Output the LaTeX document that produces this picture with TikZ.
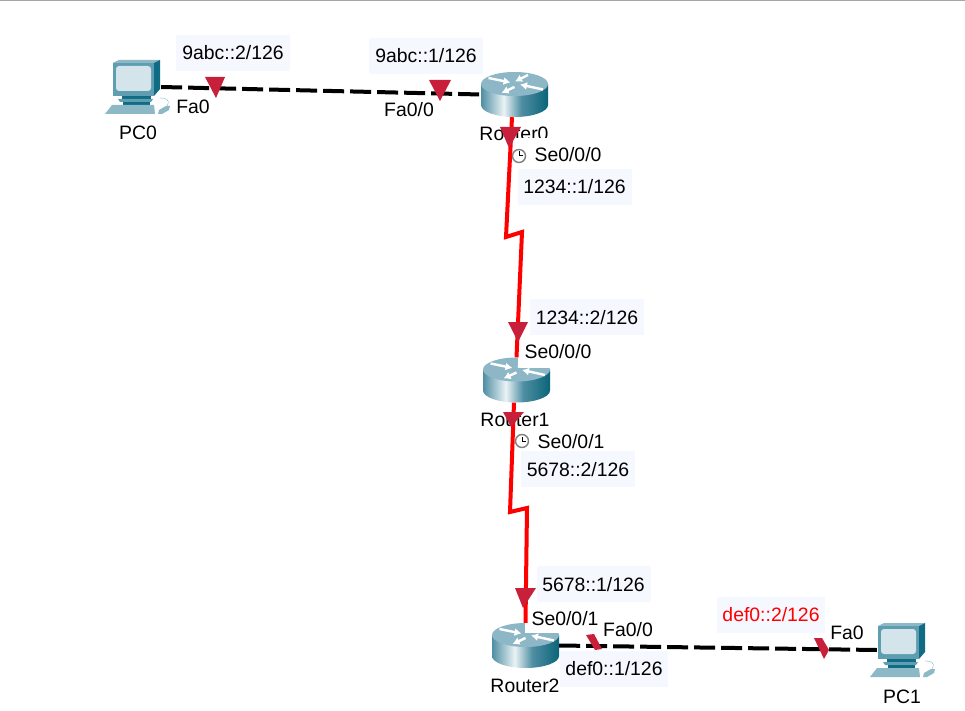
\documentclass[tikz,border=0pt]{standalone}
\usepackage{fontspec}
\setmainfont{Liberation Sans}
\usetikzlibrary{arrows.meta}
\definecolor{mkred}{HTML}{C8203A}
\definecolor{boxbg}{HTML}{F6F8FF}
\definecolor{rbL}{HTML}{4F8EA3}
\definecolor{rbM}{HTML}{EAF3F5}
\definecolor{rbR}{HTML}{0B6478}
\definecolor{rtop}{HTML}{8DB7C7}
\definecolor{pcfr}{HTML}{5F9DB1}
\definecolor{pcsc}{HTML}{D4E4EB}
\definecolor{pcdk}{HTML}{0F6C84}
\definecolor{pclt}{HTML}{8DB8C6}
\pgfdeclarehorizontalshading{rbody}{100bp}{color(0bp)=(rbL);color(25bp)=(rbL);color(42bp)=(rbM);color(55bp)=(rbL);color(75bp)=(rbR);color(100bp)=(rbR)}
\tikzset{
  lab/.style={inner sep=0pt,text height=14pt,text depth=0pt,font=\fontsize{19.4}{19.4}\selectfont,text=black},
  addr/.style={lab,fill=boxbg,minimum width=114pt,minimum height=36pt},
  addrs/.style={addr,minimum width=108pt},
  dev/.style={inner sep=0pt,minimum width=#1},
  blk/.style={black,line width=4pt,dash pattern=on 21pt off 6pt},
  rdl/.style={red,line width=4pt,line join=miter},
  mark1/.style={fill=mkred,draw=none},
  rarr/.style={white,line width=2.4pt,-{Latex[length=7pt,width=8pt]}},
  rtrdev/.pic={
    \path[shade,shading=rbody] (-33.5,-10.5) -- (-33.5,10.5) arc[start angle=180,end angle=360,x radius=33.5pt,y radius=12pt] -- (33.5,-10.5) -- cycle;
    \fill[rtop] (0,-10.5) ellipse[x radius=33.5pt,y radius=12pt];
    \draw[rarr] (-26,-16.5) -- (-4,-12);
    \draw[rarr] (13.5,-19.5) -- (0.5,-13);
    \draw[rarr] (0,-7.5) -- (-13,-1.5);
    \draw[rarr] (28.5,-5) -- (5.5,-10);
  },
  pcdev/.pic={
    \fill[pclt] (0,3) -- (6,0) -- (47,0) -- (41,3) -- cycle;
    \fill[pcdk] (41,3) -- (47,0) -- (47,29) -- (41,36) -- cycle;
    \fill[pcfr] (0,3) rectangle (41,36);
    \fill[pcsc,rounded corners=3pt] (3,6) rectangle (38,31);
    \fill[pcdk] (9,36) rectangle (38,39);
    \fill[pcfr] (5,39) -- (40,39) -- (38,42) -- (7,42) -- cycle;
    \fill[pcdk] (10,42) rectangle (37,46);
    \fill[pclt] (-1,45) -- (41,45) -- (42,54) -- (-8,54) -- cycle;
    \draw[pclt,line width=.4pt] (47,38) .. controls (52,38) and (58,39) .. (54,46);
    \fill[pclt] (46,50) -- (53,46) -- (57,46) -- (56,50) -- (49,54) -- (45,54) -- cycle;
  },
  clockicon/.pic={
    \draw[gray,line width=1.4pt,fill=white] (0,0) circle[radius=6.5pt];
    \draw[black,line width=1pt] (0,-4.5) -- (0,0) -- (4,0);
  }
}
\begin{document}
\begin{tikzpicture}[x=1pt,y=-1pt]
\useasboundingbox (0,0) rectangle (965,711);
\fill[white] (0,0) rectangle (965,711);
\fill[gray!70] (0,0) rectangle (965,1);

% device positions
\node[dev=48pt,minimum height=54pt] (pc0) at (137,87) {};
\node[dev=67pt,minimum height=45pt] (r0) at (514.5,94.5) {};
\node[dev=67pt,minimum height=45pt] (r1) at (516.5,380) {};
\node[dev=67pt,minimum height=45pt] (r2) at (525.5,645.5) {};
\node[dev=48pt,minimum height=54pt] (pc1) at (901,650) {};

% bend points of the serial links
\coordinate (z0a) at (506,237);
\coordinate (z0b) at (522,232);
\coordinate (z1a) at (510,512);
\coordinate (z1b) at (527,508);

% devices
\pic at (r0) {rtrdev};
\pic at (r1) {rtrdev};
\pic at (r2) {rtrdev};
\pic at (113,60) {pcdev};
\pic at (878,623) {pcdev};

% device names (two are cut off by the label backgrounds)
\node[lab] (n0) at (138,133) {PC0};
\node[lab] (n1) at (514,134) {Router0};
\node[lab] (n2) at (515,419) {Router1};
\node[lab] (n3) at (525,685) {Router2};
\node[lab] (n4) at (902,696) {PC1};

% white label backgrounds
\fill[white] (505,138) rectangle (612,170);
\fill[white] (518,335) rectangle (600,368);
\fill[white] (500,426) rectangle (600,452);
\fill[white] (525,603) rectangle (592,633);

% connectors
\draw[blk] (pc0.east) -- (r0.west);
\draw[rdl] (r0.south) ++(-2.5,0) -- (z0a) -- (z0b) -- (r1.north);
\draw[rdl] (r1.south) ++(-2.5,0) -- (z1a) -- (z1b) -- (r2.north);
\draw[blk] (r2.east) -- (pc1.west);

% interface marks
\fill[mark1] (205,77) -- (225,77) -- (216,98) -- cycle;
\fill[mark1] (429,80) -- (451,80) -- (440,101) -- cycle;
\fill[mark1] (500,127) -- (521,127) -- (509,148) -- cycle;
\fill[mark1] (508,322) -- (528,322) -- (518,342) -- cycle;
\fill[mark1] (503,412) -- (524,412) -- (511,427) -- cycle;
\fill[mark1] (515,588) -- (536,588) -- (523,608) -- cycle;
\fill[mark1] (586,635) -- (594,634) -- (602,649) -- (595,650) -- cycle;
\fill[mark1] (814,638) -- (822,638) -- (829,650) -- (824,659) -- cycle;

% clocks
\pic at (519,156) {clockicon};
\pic at (522,441) {clockicon};

% address labels
\node[addr] (a1) at (233,53) {9abc::2/126};
\node[addr] (a2) at (426,56) {9abc::1/126};
\node[addr] (a3) at (574.5,187) {1234::1/126};
\node[addr] (a4) at (587,317) {1234::2/126};
\node[addr] (a5) at (578,469) {5678::2/126};
\node[addr] (a6) at (593.5,584) {5678::1/126};
\node[addrs] (a7) at (614,668.5) {def0::1/126};
\node[addrs,text=red] (a8) at (771,614.5) {def0::2/126};

% interface labels
\node[lab] (i1) at (193,107) {Fa0};
\node[lab] (i2) at (409,110) {Fa0/0};
\node[lab] (i3) at (568,155) {Se0/0/0};
\node[lab] (i4) at (558,351) {Se0/0/0};
\node[lab] (i5) at (571,441) {Se0/0/1};
\node[lab] (i6) at (565,618) {Se0/0/1};
\node[lab] (i7) at (628,629) {Fa0/0};
\node[lab] (i8) at (847,632) {Fa0};
\end{tikzpicture}
\end{document}
